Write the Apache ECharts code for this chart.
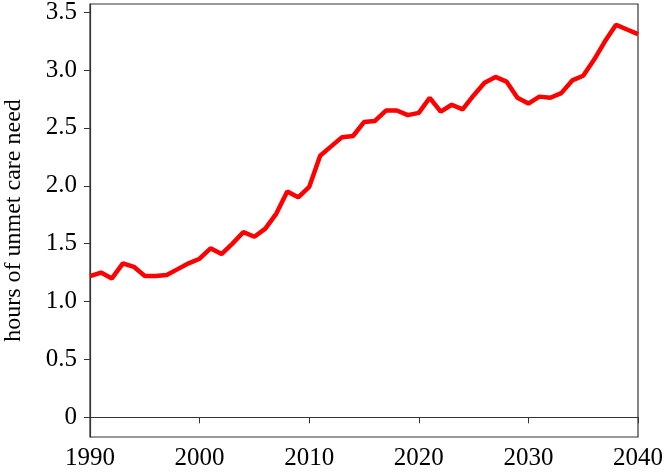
<!DOCTYPE html>
<html><head><meta charset="utf-8">
<script src="https://cdn.jsdelivr.net/npm/echarts@6/dist/echarts.min.js"></script>
<style>html,body{margin:0;padding:0;background:#fff}#c{width:665px;height:476px}</style>
</head><body><div id="c"></div>
<script>
const years = [];
for (let y = 1990; y <= 2040; y++) years.push(y);
const unmetHours = [1.22,1.25,1.20,1.33,1.30,1.22,1.22,1.23,1.28,1.33,
  1.37,1.46,1.41,1.50,1.60,1.56,1.63,1.76,1.95,1.90,
  1.99,2.26,2.34,2.42,2.43,2.55,2.56,2.65,2.65,2.61,
  2.63,2.76,2.64,2.70,2.66,2.78,2.89,2.94,2.90,2.76,
  2.71,2.77,2.76,2.80,2.91,2.95,3.09,3.25,3.39,3.35,3.31];
const yTicks = [0,0.5,1.0,1.5,2.0,2.5,3.0,3.5];
const xTicks = [1990,2000,2010,2020,2030,2040];
const font = '"Liberation Serif", "DejaVu Serif", serif';
const chart = echarts.init(document.getElementById('c'));
chart.setOption({
  animation:false,
  grid:{left:90,right:27,top:4,bottom:39,show:true,borderColor:'#333',borderWidth:1.2,
    backgroundColor:'transparent',outerBoundsMode:'none',containLabel:false},
  xAxis:{type:'value',min:1990,max:2040,
    axisLine:{show:true,lineStyle:{color:'#333',width:1.2}},
    axisTick:{show:true,inside:false,length:6,lineStyle:{color:'#333'},customValues:xTicks},
    splitLine:{show:false},
    axisLabel:{color:'#000',fontFamily:font,fontSize:25,margin:9,customValues:xTicks,
      formatter:v=>String(v)}},
  yAxis:{type:'value',min:-0.17,max:3.57,
    name:'hours of unmet care need',nameLocation:'middle',nameGap:64,
    nameTextStyle:{color:'#000',fontFamily:font,fontSize:24},
    axisLine:{show:true,lineStyle:{color:'#333',width:1.2}},
    axisTick:{show:true,inside:false,length:6,lineStyle:{color:'#333'},customValues:yTicks},
    splitLine:{show:false},
    axisLabel:{color:'#000',fontFamily:font,fontSize:25,margin:13,customValues:yTicks,
      formatter:v=> v===0?'0':v.toFixed(1)}},
  series:[{type:'line',data:years.map((y,i)=>[y,unmetHours[i]]),showSymbol:false,
    lineStyle:{color:'#ff0000',width:4.5},itemStyle:{color:'#ff0000'}}]
});
</script></body></html>
